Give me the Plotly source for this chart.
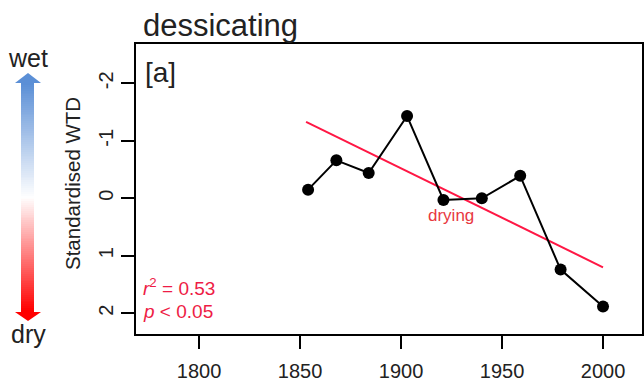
import numpy as np
import plotly.graph_objects as go

# ---- data ----
years = [1854, 1868, 1884, 1903, 1921, 1940, 1959, 1979, 2000]
wtd = [-0.15, -0.66, -0.44, -1.43, 0.03, 0.0, -0.39, 1.24, 1.88]
trend_years = [1853, 2000]
trend_vals = [-1.33, 1.20]
x_ticks = [1800, 1850, 1900, 1950, 2000]
y_ticks = [-2, -1, 0, 1, 2]
r2_text = "0.53"
p_text = "0.05"

W, H = 644, 392
def px(x):
    return x / W
def py(y):
    return (H - y) / H

TXT = "#222222"
RED_LINE = "#ff1744"
RED_TXT = "#ee1c45"
FONT = "Liberation Sans, Arial, sans-serif"

fig = go.Figure()

# main series
fig.add_trace(go.Scatter(
    x=trend_years, y=trend_vals, mode="lines",
    line=dict(color=RED_LINE, width=2), showlegend=False, hoverinfo="skip"))
fig.add_trace(go.Scatter(
    x=years, y=wtd, mode="lines+markers",
    line=dict(color="black", width=2),
    marker=dict(color="black", size=12),
    showlegend=False))

# gradient shaft of the wet/dry arrow
grad = np.linspace(0, 1, 120)
fig.add_trace(go.Heatmap(
    z=[[v] for v in grad], x=[0], y=list(range(len(grad))),
    colorscale=[[0, "#ff0000"], [0.5, "#ffffff"], [1, "#5b8fd6"]],
    showscale=False, xaxis="x2", yaxis="y2", hoverinfo="skip"))

fig.update_layout(
    width=W, height=H,
    margin=dict(l=0, r=0, t=0, b=0),
    paper_bgcolor="white", plot_bgcolor="white",
    font=dict(family=FONT, color=TXT),
    xaxis=dict(
        domain=[px(136), px(642)],
        range=[1768.8, 2019.3],
        tickvals=x_ticks, ticktext=[str(t) for t in x_ticks],
        ticks="outside", ticklen=13, tickwidth=1.5, tickcolor="black",
        showline=True, mirror=True, linecolor="black", linewidth=2,
        showgrid=False, zeroline=False,
        tickfont=dict(size=20, color=TXT, family=FONT),
        ticklabelstandoff=5,
    ),
    yaxis=dict(
        domain=[py(334), py(44)],
        range=[2.36, -2.683],
        tickvals=y_ticks, ticktext=[str(t) for t in y_ticks],
        ticks="outside", ticklen=13, tickwidth=1.5, tickcolor="black",
        showline=True, mirror=True, linecolor="black", linewidth=2,
        showgrid=False, zeroline=False, tickangle=-90,
        tickfont=dict(size=20, color=TXT, family=FONT),
    ),
    xaxis2=dict(domain=[px(21), px(34)], visible=False, anchor="y2", fixedrange=True),
    yaxis2=dict(domain=[py(312), py(83)], visible=False, anchor="x2", fixedrange=True),
)

# arrowheads
fig.add_shape(type="path", xref="paper", yref="paper",
              path=f"M {px(15)},{py(83)} L {px(41)},{py(83)} L {px(28)},{py(73)} Z",
              fillcolor="#5b8fd6", line=dict(width=0))
fig.add_shape(type="path", xref="paper", yref="paper",
              path=f"M {px(15)},{py(312)} L {px(41)},{py(312)} L {px(28)},{py(321)} Z",
              fillcolor="#ff0000", line=dict(width=0))

def ann(text, x, y, size, color=TXT, xanchor="left", angle=0):
    fig.add_annotation(text=text, x=px(x), y=py(y), xref="paper", yref="paper",
                       xanchor=xanchor, yanchor="middle", showarrow=False,
                       textangle=angle, font=dict(size=size, color=color, family=FONT))

ann("dessicating", 141, 25, 31)
ann("[a]", 143, 73, 28)
ann("wet", 28, 58, 25, xanchor="center")
ann("dry", 28, 334, 25, xanchor="center")
ann("Standardised WTD", 72, 184, 20.5, xanchor="center", angle=-90)
ann(f"<i>r</i><sup>2</sup> = {r2_text}", 141, 287, 19, color=RED_TXT)
ann(f"<i>p</i> &lt; {p_text}", 141, 311, 19, color=RED_TXT)
ann("drying", 451, 215, 17, color="#e8383f", xanchor="center")

fig.write_html("out.html")
